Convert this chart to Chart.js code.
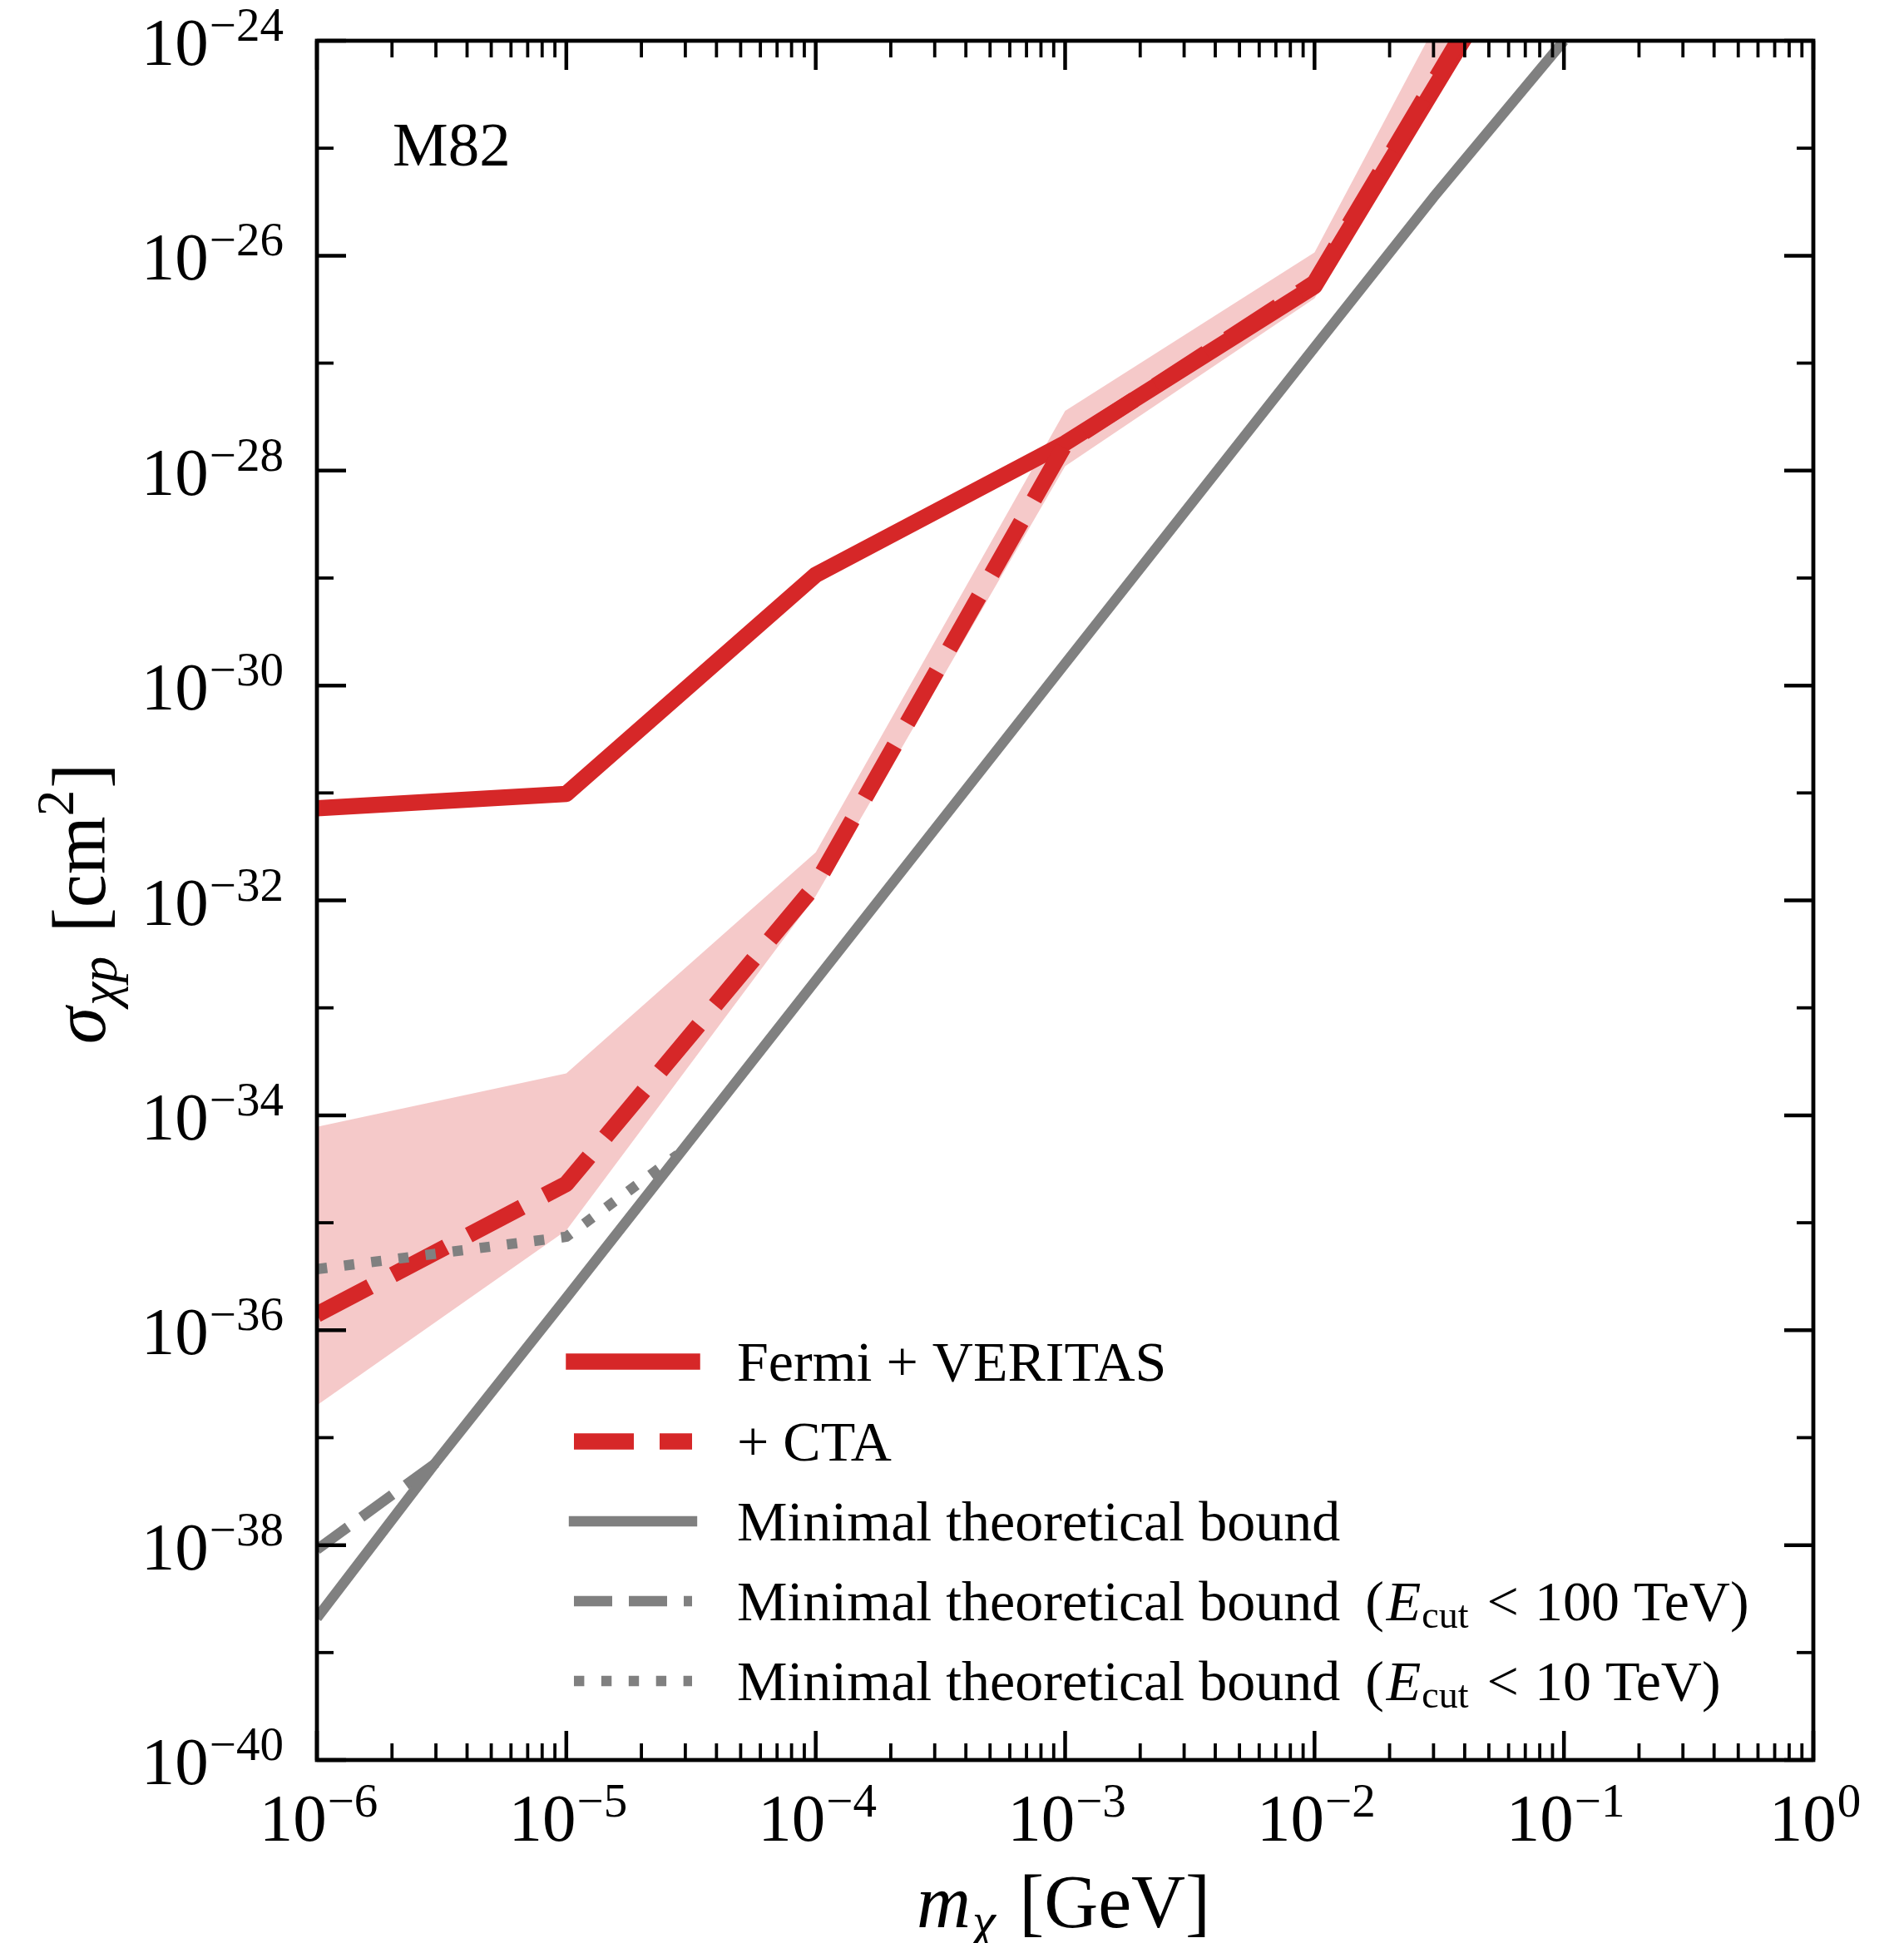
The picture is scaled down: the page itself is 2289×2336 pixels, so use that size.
<!DOCTYPE html>
<html>
<head>
<meta charset="utf-8">
<script src="https://cdn.jsdelivr.net/npm/chart.js@4.4.1/dist/chart.umd.min.js"></script>
<style>
  html, body { margin: 0; padding: 0; background: #fff; }
  canvas { display: block; }
</style>
</head>
<body>
<canvas id="chart" width="2289" height="2336"></canvas>
<script>
'use strict'

// m_chi [GeV] -> sigma_chi-p [cm^2]
const massPoints = [1e-6, 1e-5, 1e-4, 1e-3, 1e-2, 1e-1];
const fermiVeritas = [7.2e-32, 9.8e-32, 1.07e-29, 1.8e-28, 5.2e-27, 3.6e-23];
const withCta = [1.4e-36, 2.3e-35, 1.4e-32, 1.75e-28, 5.6e-27, 4.5e-23];
const withCtaLow = [2.0e-37, 8.5e-36, 1.1e-32, 1.1e-28, 4.0e-27, 2.5e-23];
const withCtaHigh = [7.8e-35, 2.45e-34, 2.8e-32, 3.6e-28, 1.07e-26, 2.5e-22];

const massBound = [1e-6, 3e-6, 1e-5, 1e-4, 1e-3, 1e-2, 3e-2, 1e-1];
const minimalBound = [2.1e-39, 5.9e-38, 2.0e-36, 1.8e-33, 1.6e-30, 1.4e-27, 3.5e-26, 1e-24];
const massBound100 = [1e-6, 3e-6];
const minimalBound100 = [9.1e-39, 5.8e-38];
const massBound10 = [1e-6, 1e-5, 2.8e-5];
const minimalBound10 = [3.7e-36, 7.4e-36, 4.3e-35];

// axis ticks (powers of ten)
const xTickExps = [-6, -5, -4, -3, -2, -1, 0];
const yTickExps = [-40, -39, -38, -37, -36, -35, -34, -33, -32, -31, -30, -29, -28, -27, -26, -25, -24];
const yLabelExps = [-40, -38, -36, -34, -32, -30, -28, -26, -24];

const RED = '#d62728';
const GRAY = '#808080';
const BAND = 'rgba(214, 39, 40, 0.25)';

const SERIF = '"Liberation Serif", "DejaVu Serif", serif';
const fnt = (size, italic) => (italic ? 'italic ' : '') + size + 'px ' + SERIF;

function pts(xs, ys) {
  return xs.map((x, i) => ({x: x, y: ys[i]}));
}

// parts: [text, font, dy, extra gap after]
function drawRich(ctx, parts, x, y, align) {
  let w = 0;
  parts.forEach(p => { ctx.font = p[1]; w += ctx.measureText(p[0]).width + (p[3] || 0); });
  let cx = x;
  if (align === 'center') cx = x - w / 2;
  if (align === 'right') cx = x - w;
  parts.forEach(p => {
    ctx.font = p[1];
    ctx.fillText(p[0], cx, y + (p[2] || 0));
    cx += ctx.measureText(p[0]).width + (p[3] || 0);
  });
}

function powLabel(e) {
  const s = e < 0 ? '\u2212' + (-e) : String(e);
  return [['10', fnt(81), 0, 1], [s, fnt(57), -29]];
}

function cutLabel(energy) {
  return [
    ['Minimal theoretical bound', fnt(68), 0, 30],
    ['(', fnt(68), 0, 3],
    ['E', fnt(68, true), 0, 1],
    ['cut', fnt(46), 9, 22],
    ['<', fnt(68), 0, 19],
    [energy + ' TeV)', fnt(68)],
  ];
}

const legendRows = [
  {ds: 4, parts: [['Fermi + VERITAS', fnt(68)]]},
  {ds: 3, parts: [['+ CTA', fnt(68)]]},
  {ds: 2, parts: [['Minimal theoretical bound', fnt(68)]]},
  {ds: 1, parts: cutLabel('100')},
  {ds: 0, parts: cutLabel('10')},
];

const framePlugin = {
  id: 'frame',
  afterDraw(chart) {
    const ctx = chart.ctx;
    const a = chart.chartArea;
    const xs = chart.scales.x;
    const ys = chart.scales.y;
    ctx.save();
    ctx.strokeStyle = '#000';
    ctx.fillStyle = '#000';

    // ticks, inward on all four sides
    const tick = (x1, y1, x2, y2, w) => {
      ctx.lineWidth = w;
      ctx.beginPath();
      ctx.moveTo(x1, y1);
      ctx.lineTo(x2, y2);
      ctx.stroke();
    };
    xTickExps.forEach((e, i) => {
      const px = xs.getPixelForValue(Math.pow(10, e));
      tick(px, a.bottom, px, a.bottom - 35, 4.5);
      tick(px, a.top, px, a.top + 35, 4.5);
      if (i < xTickExps.length - 1) {
        for (let k = 2; k <= 9; k++) {
          const mx = xs.getPixelForValue(k * Math.pow(10, e));
          tick(mx, a.bottom, mx, a.bottom - 20, 3.8);
          tick(mx, a.top, mx, a.top + 20, 3.8);
        }
      }
    });
    yTickExps.forEach(e => {
      const py = ys.getPixelForValue(Math.pow(10, e));
      const major = yLabelExps.includes(e);
      const len = major ? 35 : 20;
      const w = major ? 4.5 : 3.8;
      tick(a.left, py, a.left + len, py, w);
      tick(a.right, py, a.right - len, py, w);
    });

    // frame
    ctx.lineWidth = 4.8;
    ctx.strokeRect(a.left, a.top, a.right - a.left, a.bottom - a.top);

    // tick labels
    ctx.textBaseline = 'alphabetic';
    xTickExps.forEach(e => {
      const px = xs.getPixelForValue(Math.pow(10, e));
      drawRich(ctx, powLabel(e), px + 2, a.bottom + 97, 'center');
    });
    yLabelExps.forEach(e => {
      const py = ys.getPixelForValue(Math.pow(10, e));
      drawRich(ctx, powLabel(e), a.left - 40, py + 29, 'right');
    });

    // axis titles
    drawRich(ctx, [['m', fnt(90, true), 0, 2], ['\u03c7', fnt(63, true), 14, 6], [' [GeV]', fnt(90)]],
      (a.left + a.right) / 2 - 2, 2317, 'center');
    ctx.save();
    ctx.translate(126, (a.top + a.bottom) / 2 + 4);
    ctx.rotate(-Math.PI / 2);
    drawRich(ctx, [['\u03c3', fnt(90, true), 0, 2], ['\u03c7p', fnt(63, true), 14, 6], [' [cm', fnt(90)],
      ['2', fnt(63), -38, 2], [']', fnt(90)]], 0, 0, 'center');
    ctx.restore();

    // source label
    drawRich(ctx, [['M82', fnt(75)]], 472, 199, 'left');

    // legend
    const x0 = 690, x1 = 832, textX = 886;
    legendRows.forEach((row, i) => {
      const ds = chart.data.datasets[row.ds];
      const y = 1637 + i * 96;
      ctx.save();
      ctx.strokeStyle = ds.borderColor;
      ctx.lineWidth = ds.borderWidth;
      const dash = ds.borderDash || [];
      ctx.setLineDash(dash);
      ctx.lineCap = dash.length ? 'butt' : 'square';
      ctx.beginPath();
      ctx.moveTo(x0, y);
      ctx.lineTo(x1, y);
      ctx.stroke();
      ctx.restore();
      drawRich(ctx, row.parts, textX, y + 23, 'left');
    });

    ctx.restore();
  }
};

const ctx = document.getElementById('chart');

const chart = new Chart(ctx, {
  type: 'line',
  data: {
    datasets: [
      {
        label: 'Minimal theoretical bound (Ecut < 10 TeV)',
        data: pts(massBound10, minimalBound10),
        borderColor: GRAY, borderWidth: 12.4, borderDash: [12.4, 20.5],
        borderCapStyle: 'butt', order: 0,
      },
      {
        label: 'Minimal theoretical bound (Ecut < 100 TeV)',
        data: pts(massBound100, minimalBound100),
        borderColor: GRAY, borderWidth: 12.4, borderDash: [46, 20],
        borderCapStyle: 'butt', order: 0,
      },
      {
        label: 'Minimal theoretical bound',
        data: pts(massBound, minimalBound),
        borderColor: GRAY, borderWidth: 12.4, order: 0,
      },
      {
        label: '+ CTA',
        data: pts(massPoints, withCta),
        borderColor: RED, borderWidth: 19.5, borderDash: [72, 31],
        borderCapStyle: 'butt', order: 1,
      },
      {
        label: 'Fermi + VERITAS',
        data: pts(massPoints, fermiVeritas),
        borderColor: RED, borderWidth: 19.5, order: 1,
      },
      {
        label: 'CTA band low',
        data: pts(massPoints, withCtaLow),
        borderWidth: 0, borderColor: 'rgba(0,0,0,0)', fill: false, order: 2,
      },
      {
        label: 'CTA band high',
        data: pts(massPoints, withCtaHigh),
        borderWidth: 0, borderColor: 'rgba(0,0,0,0)', backgroundColor: BAND,
        fill: '-1', order: 2,
      },
    ]
  },
  options: {
    responsive: false,
    animation: false,
    devicePixelRatio: 1,
    layout: {padding: {left: 381, top: 49, right: 109, bottom: 220}},
    elements: {
      point: {radius: 0, hoverRadius: 0},
      line: {tension: 0, borderJoinStyle: 'round', borderCapStyle: 'butt'},
    },
    datasets: {line: {clip: 0}},
    scales: {
      x: {type: 'logarithmic', min: 1e-6, max: 1, display: false},
      y: {type: 'logarithmic', min: 1e-40, max: 1e-24, display: false},
    },
    plugins: {
      legend: {display: false},
      tooltip: {enabled: false},
    },
  },
  plugins: [framePlugin],
});
</script>
</body>
</html>
